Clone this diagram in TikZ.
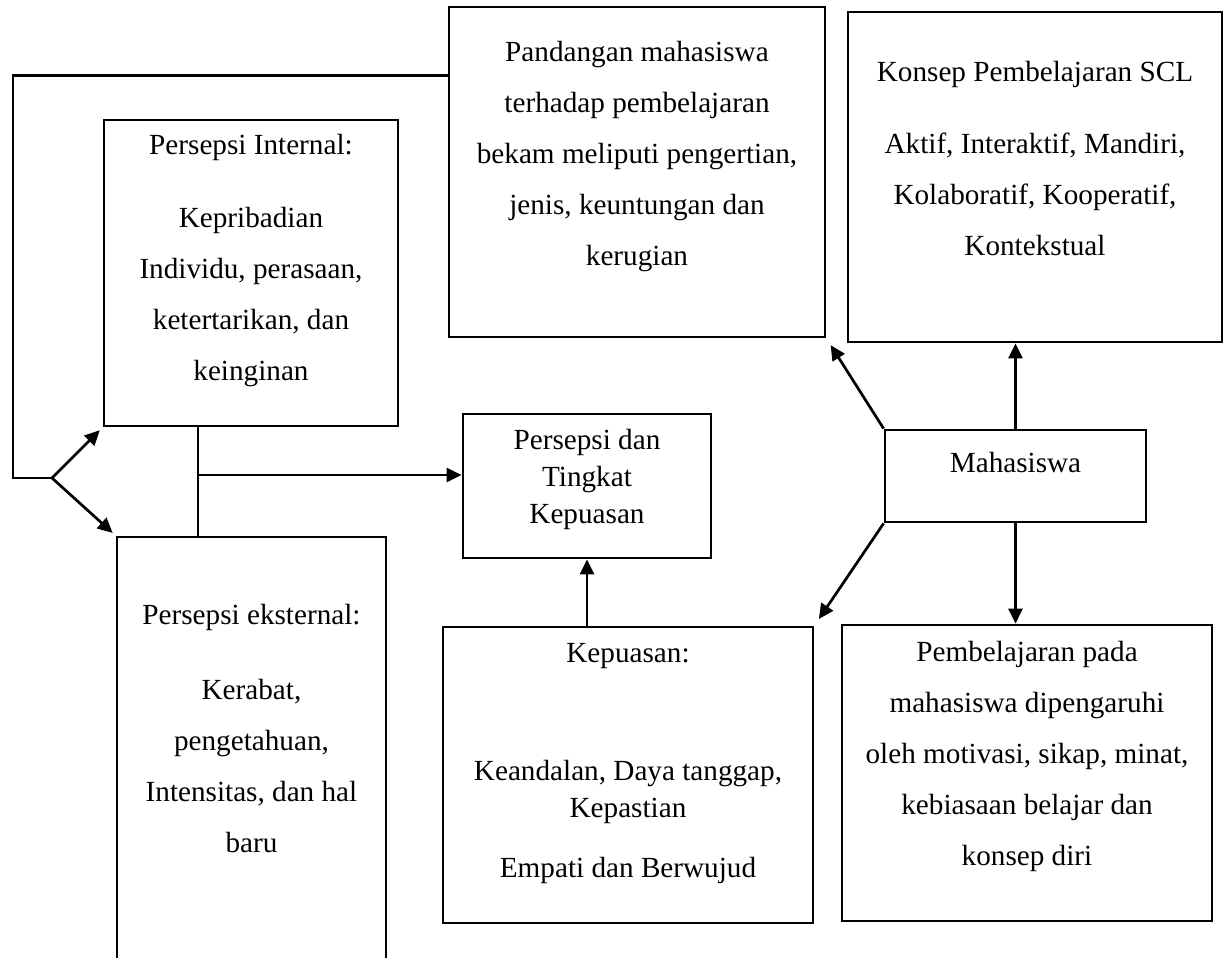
\documentclass[tikz,border=0pt]{standalone}
\usepackage{fontspec}
\setmainfont{Liberation Serif}
\usetikzlibrary{positioning,calc,arrows.meta}

\tikzset{
  box/.style={draw,line width=1.35pt,inner sep=0pt},
  txt/.style={align=center,inner sep=0pt,font=\fontsize{14.6}{25.5}\selectfont},
  txtsingle/.style={txt,font=\fontsize{14.6}{18.5}\selectfont},
  line/.style={line width=1.35pt},
  arr/.style={line,-{Triangle[length=7.5pt,width=7pt]}}
}

\begin{document}
\begin{tikzpicture}[x=0.5pt,y=-0.5pt]
    \useasboundingbox (0,0) rectangle (1226,958);

    % Boxes (centres in picture pixels)
    \node[box,minimum width=188pt,minimum height=165pt] (pand) at (637,172) {};
    \node[box,minimum width=187pt,minimum height=165pt] (konsep) at (1035,177) {};
    \node[box,minimum width=147pt,minimum height=153pt] (int) at (251,273) {};
    \node[box,minimum width=124pt,minimum height=72pt] (ptk) at (587,486) {};
    \node[box,minimum width=130.5pt,minimum height=46pt] (mhs) at (1015.5,476) {};
    \node[box,minimum width=134.5pt,minimum height=231.5pt] (ext) at (251.5,768.5) {};
    \node[box,minimum width=185pt,minimum height=148pt] (kep) at (628,775) {};
    \node[box,minimum width=185pt,minimum height=148pt] (pemb) at (1027,773) {};

    % Texts
    \node[txt,below=17.5pt of pand.north] (pandtxt) {Pandangan mahasiswa\\terhadap pembelajaran\\bekam meliputi pengertian,\\jenis, keuntungan dan\\kerugian};
    \node[txt,below=25pt of konsep.north] (konseptxt) {Konsep Pembelajaran SCL\\[10.5pt]Aktif, Interaktif, Mandiri,\\Kolaboratif, Kooperatif,\\Kontekstual};
    \node[txt,below=7.5pt of int.north] (inttxt) {Persepsi Internal:\\[11pt]Kepribadian\\Individu, perasaan,\\ketertarikan, dan\\keinginan};
    \node[txtsingle,below=8pt of ptk.north] (ptktxt) {Persepsi dan\\Tingkat\\Kepuasan};
    \node[txt,below=11.5pt of mhs.north] (mhstxt) {Mahasiswa};
    \node[txt,below=34pt of ext.north] (exttxt) {Persepsi eksternal:\\[12pt]Kerabat,\\pengetahuan,\\Intensitas, dan hal\\baru};
    \node[txtsingle,below=8.5pt of kep.north] (keptxt) {Kepuasan:\\[40.5pt]Keandalan, Daya tanggap,\\Kepastian\\[11.5pt]Empati dan Berwujud};
    \node[txt,below=8.5pt of pemb.north] (pembtxt) {Pembelajaran pada\\mahasiswa dipengaruhi\\oleh motivasi, sikap, minat,\\kebiasaan belajar dan\\konsep diri};

    % Feedback loop from the top box to both perceptions
    \coordinate (fbtop) at ($(pand.north west)!0.209!(pand.south west)$);
    \coordinate (loopl) at (13,478);
    \coordinate (fork) at (52,478);
    \draw[line] (fbtop) -| (loopl) -- (fork);
    \draw[arr,shorten >=2pt] (fork) -- (int.south west);
    \draw[arr,shorten >=2pt] (fork) -- (ext.north west);

    % Perceptions into Persepsi dan Tingkat Kepuasan
    \coordinate (stem) at (198,475);
    \draw[line] (stem |- int.south) -- (stem |- ext.north);
    \draw[arr] (stem) -- (stem -| ptk.west);
    \draw[arr] (ptk.south |- kep.north) -- (ptk.south);

    % Mahasiswa outward
    \draw[arr,shorten >=4pt] (mhs.north west) -- (pand.south east);
    \draw[arr] (mhs.north) -- (mhs.north |- konsep.south);
    \draw[arr,shorten >=4pt] (mhs.south west) -- (kep.north east);
    \draw[arr] (mhs.south) -- (mhs.south |- pemb.north);
\end{tikzpicture}
\end{document}
